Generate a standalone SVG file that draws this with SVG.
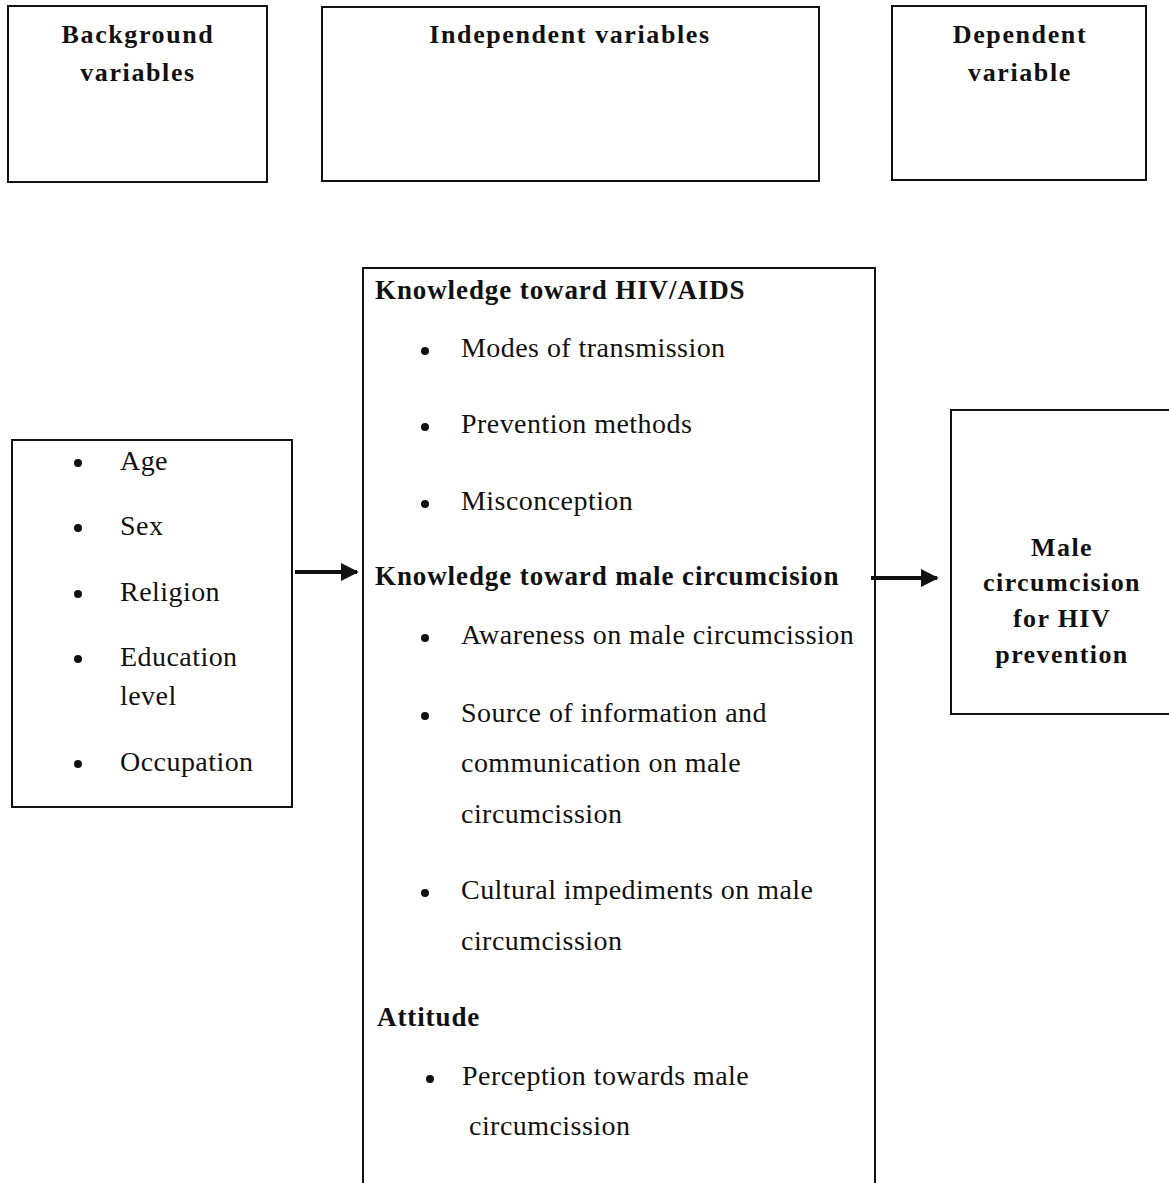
<svg xmlns="http://www.w3.org/2000/svg" width="1169" height="1183" viewBox="0 0 1169 1183">
<defs>
<style>
.box{fill:#fff;stroke:#111;stroke-width:2}
.h{font-family:"Liberation Serif","Times New Roman",serif;font-weight:bold;font-size:27px;fill:#111;letter-spacing:0.9px}
.ht{font-family:"Liberation Serif","Times New Roman",serif;font-weight:bold;font-size:26px;fill:#111;letter-spacing:1.6px;text-anchor:middle}
.t{font-family:"Liberation Serif","Times New Roman",serif;font-size:28px;fill:#111;letter-spacing:0.45px}
.r{font-family:"Liberation Serif","Times New Roman",serif;font-weight:bold;font-size:26px;fill:#111;letter-spacing:1.4px;text-anchor:middle}
.b{fill:#111}
.c{stroke:#111;stroke-width:4;fill:none}
</style>
<marker id="ah" viewBox="0 0 10 10" refX="9" refY="5" markerWidth="4.5" markerHeight="4.5" orient="auto" markerUnits="strokeWidth">
<path d="M0,0 L10,5 L0,10 z" fill="#111"/>
</marker>
</defs>
<rect width="1169" height="1183" fill="#fff"/>

<g id="background-header">
<rect class="box" x="8" y="6" width="259" height="176"/>
<text class="ht" x="138" y="43">Background</text>
<text class="ht" x="138" y="81">variables</text>
</g>
<g id="independent-header">
<rect class="box" x="322" y="7" width="497" height="174"/>
<text class="ht" x="570" y="43">Independent variables</text>
</g>
<g id="dependent-header">
<rect class="box" x="892" y="6" width="254" height="174"/>
<text class="ht" x="1020" y="43">Dependent</text>
<text class="ht" x="1020" y="81">variable</text>
</g>

<g id="background-box">
<rect class="box" x="12" y="440" width="280" height="367"/>
<circle class="b" cx="78" cy="463" r="4"/><text class="t" x="120" y="470">Age</text>
<circle class="b" cx="78" cy="528" r="4"/><text class="t" x="120" y="535">Sex</text>
<circle class="b" cx="78" cy="594" r="4"/><text class="t" x="120" y="601">Religion</text>
<circle class="b" cx="78" cy="659" r="4"/><text class="t" x="120" y="666">Education</text>
<text class="t" x="120" y="705">level</text>
<circle class="b" cx="78" cy="764" r="4"/><text class="t" x="120" y="771">Occupation</text>
</g>

<g id="independent-box">
<rect class="box" x="363" y="268" width="512" height="916"/>
<text class="h" x="375" y="299">Knowledge toward HIV/AIDS</text>
<circle class="b" cx="425" cy="351" r="4"/><text class="t" x="461" y="357">Modes of transmission</text>
<circle class="b" cx="425" cy="427" r="4"/><text class="t" x="461" y="433">Prevention methods</text>
<circle class="b" cx="425" cy="504" r="4"/><text class="t" x="461" y="510">Misconception</text>
<text class="h" x="375" y="585">Knowledge toward male circumcision</text>
<circle class="b" cx="425" cy="638" r="4"/><text class="t" x="461" y="644">Awareness on male circumcission</text>
<circle class="b" cx="425" cy="716" r="4"/><text class="t" x="461" y="722">Source of information and</text>
<text class="t" x="461" y="772">communication on male</text>
<text class="t" x="461" y="823">circumcission</text>
<circle class="b" cx="425" cy="893" r="4"/><text class="t" x="461" y="899">Cultural impediments on male</text>
<text class="t" x="461" y="950">circumcission</text>
<text class="h" x="377" y="1026">Attitude</text>
<circle class="b" cx="430" cy="1079" r="4"/><text class="t" x="462" y="1085">Perception towards male</text>
<text class="t" x="469" y="1135">circumcission</text>
</g>

<g id="dependent-box">
<rect class="box" x="951" y="410" width="230" height="304"/>
<text class="r" x="1062" y="556">Male</text>
<text class="r" x="1062" y="591">circumcision</text>
<text class="r" x="1062" y="627">for HIV</text>
<text class="r" x="1062" y="663">prevention</text>
</g>

<g id="connectors">
<line class="c" x1="295" y1="572" x2="357" y2="572" marker-end="url(#ah)"/>
<line class="c" x1="871" y1="578" x2="937" y2="578" marker-end="url(#ah)"/>
</g>
</svg>
